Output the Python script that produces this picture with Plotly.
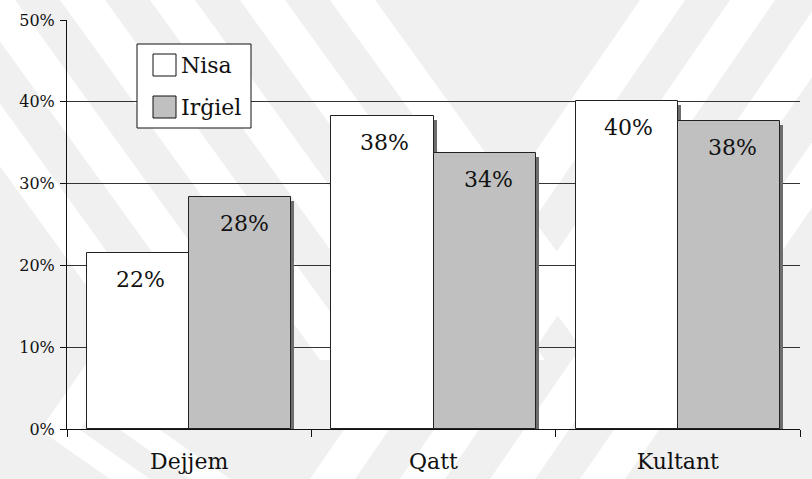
import plotly.graph_objects as go

# Data
categories = ["Dejjem", "Qatt", "Kultant"]
series_names = ["Nisa", "Irġiel"]
nisa = [0.215, 0.383, 0.401]
irgiel = [0.284, 0.337, 0.377]

W, H = 812, 479
ML, MR, MT, MB = 67, 12, 20, 50
PW, PH = W - ML - MR, H - MT - MB
FONT = "DejaVu Serif, Liberation Serif, serif"

def px(x):
    return (x - ML) / PW

def py(y):
    return (H - MB - y) / PH

fig = go.Figure()

bar_w = 0.418
offsets = [-bar_w, 0.0]
fills = ["#ffffff", "#c0c0c0"]
shadow_dx = 3 / (PW / 3)
shadow_dy = 4 * 0.5 / PH

# drop shadows behind the bars
for vals, off in zip([nisa, irgiel], offsets):
    fig.add_trace(go.Bar(
        x=categories, y=[v - shadow_dy for v in vals],
        offset=off + shadow_dx, width=bar_w,
        marker=dict(color="#6e6e6e", line=dict(width=0)),
        showlegend=False, hoverinfo="skip",
    ))

for name, vals, off, col in zip(series_names, [nisa, irgiel], offsets, fills):
    fig.add_trace(go.Bar(
        x=categories, y=vals, name=name,
        offset=off, width=bar_w,
        marker=dict(color=col, line=dict(color="#222222", width=1)),
        showlegend=False,
    ))

annotations = []
# value labels inside the top of each bar
for vals, sign in zip([nisa, irgiel], [-1, 1]):
    for c, v in zip(categories, vals):
        annotations.append(dict(
            x=c, y=v, xref="x", yref="y", text=f"{v:.0%}",
            showarrow=False, xanchor="center", yanchor="top",
            xshift=sign * 52 + 3, yshift=-12,
            font=dict(family=FONT, size=22, color="#111111"),
        ))

shapes = []
# background watermark stripes
def band(pts):
    path = "M " + " L ".join(f"{px(a):.4f},{py(b):.4f}" for a, b in pts) + " Z"
    return dict(type="path", path=path, xref="paper", yref="paper",
                fillcolor="#ffffff", line=dict(width=0), layer="below")

for x0 in [-120, -30, 60, 150, 240, 330]:
    shapes.append(band([(x0, 0), (x0 + 45, 0), (x0 + 45 + 260, 360), (x0 + 260, 360)]))
for x0 in [640, 730, 820, 910]:
    shapes.append(band([(x0, 0), (x0 + 45, 0), (x0 + 45 - 330, 479), (x0 - 330, 479)]))
for x0 in [40, 120]:
    shapes.append(band([(x0 + 70, 330), (x0 + 110, 330), (x0 + 40, 430), (x0 + 110, 479), (x0 + 70, 479), (x0, 430)]))

# legend box
shapes.append(dict(type="rect", xref="paper", yref="paper",
                   x0=px(137), x1=px(251), y0=py(128), y1=py(44),
                   fillcolor="#ffffff", line=dict(color="#111111", width=1)))
for i, (name, col) in enumerate(zip(series_names, fills)):
    yc = 65 + i * 42
    shapes.append(dict(type="rect", xref="paper", yref="paper",
                       x0=px(153), x1=px(176), y0=py(yc + 11), y1=py(yc - 11),
                       fillcolor=col, line=dict(color="#111111", width=1)))
    annotations.append(dict(x=px(179), y=py(yc), xref="paper", yref="paper",
                            text=name, showarrow=False, xanchor="left", yanchor="middle",
                            font=dict(family=FONT, size=22, color="#111111")))

fig.update_layout(
    width=W, height=H,
    margin=dict(l=ML, r=MR, t=MT, b=MB, pad=0),
    paper_bgcolor="#f0f0f0", plot_bgcolor="rgba(0,0,0,0)",
    barmode="overlay", bargap=0,
    showlegend=False,
    shapes=shapes, annotations=annotations,
    font=dict(family=FONT, color="#111111"),
    xaxis=dict(
        type="category", range=[-0.5, 2.5], automargin=False,
        showline=True, linecolor="#111111", linewidth=1,
        ticks="outside", tickson="boundaries", ticklen=7, tickcolor="#111111",
        showgrid=False, tickfont=dict(family=FONT, size=22, color="#111111"),
        ticklabelstandoff=13, fixedrange=True,
    ),
    yaxis=dict(
        range=[0, 0.5], dtick=0.1, tickformat=".0%", automargin=False,
        showline=True, linecolor="#111111", linewidth=1,
        ticks="outside", ticklen=6, tickcolor="#111111",
        showgrid=True, gridcolor="#333333", gridwidth=1,
        zeroline=False, tickfont=dict(family=FONT, size=16, color="#111111"),
        ticklabelstandoff=2, fixedrange=True,
    ),
)

fig.write_html("out.html")
